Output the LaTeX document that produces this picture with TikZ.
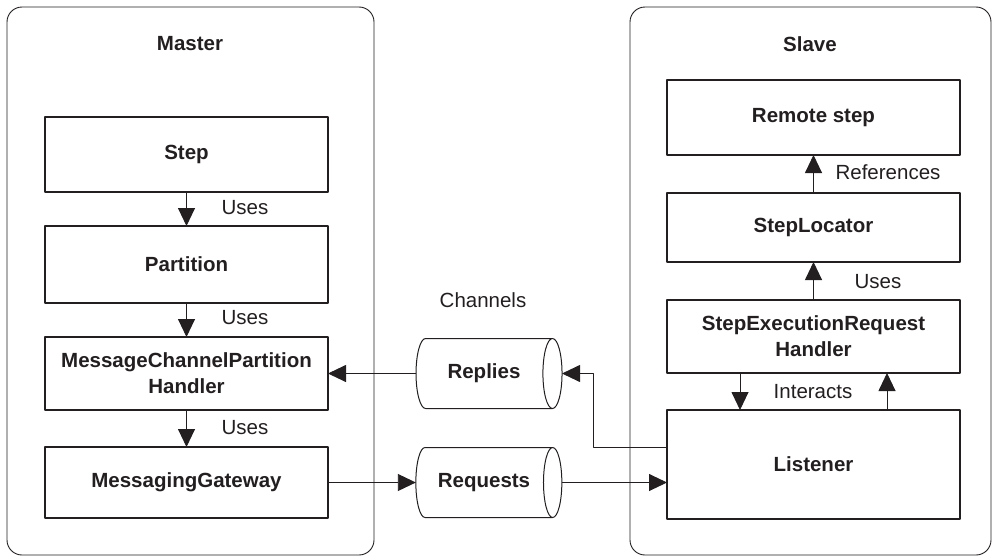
\documentclass[tikz,border=0pt]{standalone}
\usepackage{fontspec}
\setmainfont{Liberation Sans}
\usetikzlibrary{arrows.meta,positioning,shapes.geometric}
\definecolor{ink}{RGB}{35,31,32}

\begin{document}
\begin{tikzpicture}[x=1pt,y=-1pt,>={Triangle[length=18pt,width=17pt]},line join=round,
    txt/.style={font=\fontsize{20.5}{26}\selectfont,text=ink},
    box/.style={txt,font=\fontsize{20.5}{26}\selectfont\bfseries,draw=ink,line width=1.4pt,
      align=center,inner sep=0pt,outer sep=0pt},
    mbox/.style={box,minimum width=283pt},
    sbox/.style={box,minimum width=293pt},
    chan/.style={cylinder,txt,font=\fontsize{20.5}{26}\selectfont\bfseries,draw=ink,line width=1pt,
      shape border rotate=0,aspect=1,minimum height=146pt,minimum width=70pt,
      inner sep=0pt,outer sep=0pt},
    panel/.style={draw=ink,line width=0.9pt,rounded corners=15pt},
    link/.style={draw=ink,line width=0.9pt,->}]
    \useasboundingbox (0,0) rectangle (992,557);
    % the two sides
    \draw[panel] (7,7) rectangle (374,555);
    \draw[panel] (630,7) rectangle (991,555);
    \node[txt,font=\fontsize{20.5}{26}\selectfont\bfseries] (mastertitle) at (190,44) {Master};
    \node[txt,font=\fontsize{20.5}{26}\selectfont\bfseries] (slavetitle) at (810,44) {Slave};
    % master
    \node[mbox,minimum height=75pt] (step) at (186.5,154.5) {Step};
    \node[mbox,minimum height=77pt] (partition) at (186.5,264.5) {Partition};
    \node[mbox,minimum height=73pt] (mcph) at (186.5,373.5) {MessageChannelPartition\\Handler};
    \node[mbox,minimum height=71pt] (gateway) at (186.5,482.5) {MessagingGateway};
    \draw[link] (step) -- (partition);
    \draw[link] (partition) -- (mcph);
    \draw[link] (mcph) -- (gateway);
    \node[txt] at (245,208) {Uses};
    \node[txt] at (245,318) {Uses};
    \node[txt] at (245,428) {Uses};
    % channels
    \node[txt] (channels) at (483,300) {Channels};
    \node[chan] (replies) at (484,373.5) {Replies};
    \node[chan] (requests) at (484,482.5) {Requests};
    % slave
    \node[sbox,minimum height=75pt] (remote) at (813.5,117.5) {Remote step};
    \node[sbox,minimum height=69pt] (locator) at (813.5,227.5) {StepLocator};
    \node[sbox,minimum height=73pt] (handler) at (813.5,336.5) {StepExecutionRequest\\Handler};
    \node[sbox,minimum height=109pt] (listener) at (813.5,464.5) {Listener};
    \draw[link] (locator) -- (remote);
    \draw[link] (handler) -- (locator);
    \draw[link] ([xshift=-73.5pt]handler.south) -- ([xshift=-73.5pt]listener.north);
    \draw[link] ([xshift=73.5pt]listener.north) -- ([xshift=73.5pt]handler.south);
    \node[txt] at (888,172) {References};
    \node[txt] at (878,282) {Uses};
    \node[txt] at (813,392) {Interacts};
    % messages
    \coordinate (bend) at (593,0);
    \draw[link] (replies.west) -- (mcph.east);
    \draw[link] (gateway.east) -- (requests.west);
    \draw[link] (requests.east) -- (requests.east -| listener.west);
    \draw[link] ([yshift=17.5pt]listener.west) -| (bend |- replies.east) -- (replies.east);
  \end{tikzpicture}
\end{document}
